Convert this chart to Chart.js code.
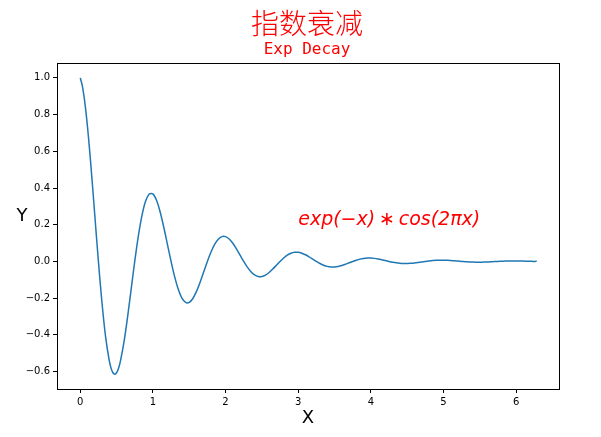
<!DOCTYPE html>
<html>
<head>
<meta charset="utf-8">
<script src="https://cdn.jsdelivr.net/npm/chart.js@4"></script>
<style>
html,body{margin:0;padding:0;background:#fff;}
#wrap{width:601px;height:437px;position:relative;}
</style>
</head>
<body>
<div id="wrap"><canvas id="c" width="601" height="437"></canvas></div>
<script>
const titleText = "指数衰减";
const subtitleText = "Exp Decay";
const xLabel = "X";
const yLabel = "Y";
const annotationText = "exp(−x)\u2009∗\u2009cos(2πx)";
const annotationAt = [3, 0.2];

const xValues = [
0.00,0.025,0.05,0.075,0.10,0.125,0.15,0.175,0.20,0.25,0.30,0.35,0.40,0.425,0.45,0.475,0.50,0.525,0.55,0.60,0.65,0.70,0.75,0.80,0.85,0.90,0.95,
1.00,1.05,1.10,1.15,1.20,1.25,1.30,1.35,1.40,1.45,1.50,1.55,1.60,1.65,1.70,1.75,1.80,1.85,1.90,1.95,
2.00,2.05,2.10,2.15,2.20,2.25,2.30,2.35,2.40,2.45,2.50,2.55,2.60,2.65,2.70,2.75,2.80,2.85,2.90,2.95,
3.00,3.05,3.10,3.15,3.20,3.25,3.30,3.35,3.40,3.45,3.50,3.55,3.60,3.65,3.70,3.75,3.80,3.85,3.90,3.95,
4.00,4.05,4.10,4.15,4.20,4.25,4.30,4.35,4.40,4.45,4.50,4.55,4.60,4.65,4.70,4.75,4.80,4.85,4.90,4.95,
5.00,5.05,5.10,5.15,5.20,5.25,5.30,5.35,5.40,5.45,5.50,5.55,5.60,5.65,5.70,5.75,5.80,5.85,5.90,5.95,
6.00,6.05,6.10,6.15,6.20,6.25,6.2832
];
const yValues = [
1.0000,0.9633,0.9047,0.8266,0.7320,0.6240,0.5059,0.3811,0.2530,0.0000,-0.2289,-0.4142,-0.5423,-0.5825,-0.6064,-0.6142,-0.6065,-0.5843,-0.5487,-0.4440,-0.3069,-0.1535,0.0000,0.1389,0.2512,0.3289,0.3678,
0.3679,0.3328,0.2693,0.1861,0.0931,0.0000,-0.0842,-0.1524,-0.1995,-0.2231,-0.2231,-0.2019,-0.1633,-0.1129,-0.0565,0.0000,0.0511,0.0924,0.1210,0.1353,
0.1353,0.1224,0.0991,0.0685,0.0342,0.0000,-0.0310,-0.0561,-0.0734,-0.0821,-0.0821,-0.0743,-0.0601,-0.0415,-0.0208,0.0000,0.0188,0.0340,0.0445,0.0498,
0.0498,0.0450,0.0365,0.0252,0.0126,0.0000,-0.0114,-0.0206,-0.0270,-0.0302,-0.0302,-0.0273,-0.0221,-0.0153,-0.0076,0.0000,0.0069,0.0125,0.0164,0.0183,
0.0183,0.0166,0.0134,0.0093,0.0046,0.0000,-0.0042,-0.0076,-0.0099,-0.0111,-0.0111,-0.0101,-0.0081,-0.0056,-0.0028,0.0000,0.0025,0.0046,0.0060,0.0067,
0.0067,0.0061,0.0049,0.0034,0.0017,0.0000,-0.0015,-0.0028,-0.0037,-0.0041,-0.0041,-0.0037,-0.0030,-0.0021,-0.0010,0.0000,0.0009,0.0017,0.0022,0.0025,
0.0025,0.0022,0.0018,0.0013,0.0006,0.0000,0.0019
];
const xTicks = [0,1,2,3,4,5,6];
const yTicks = [-0.6,-0.4,-0.2,0.0,0.2,0.4,0.6,0.8,1.0];

const points = xValues.map((x,i)=>({x:x,y:yValues[i]}));

const textPlugin = {
  id:'textPlugin',
  afterDraw(chart){
    const ctx = chart.ctx;
    const a = chart.chartArea;
    ctx.save();
    ctx.strokeStyle = '#000';
    ctx.lineWidth = 1;
    ctx.strokeRect(Math.round(a.left)+0.5, Math.round(a.top)+0.5, Math.round(a.right-a.left), Math.round(a.bottom-a.top));
    ctx.fillStyle = 'red';
    ctx.textAlign = 'center';
    ctx.textBaseline = 'middle';
    ctx.font = '300 28px "Noto Sans CJK SC"';
    ctx.fillText(titleText, 307, 23);
    ctx.font = '16px "DejaVu Sans Mono"';
    ctx.fillText(subtitleText, 307, 50);
    ctx.fillStyle = '#000';
    ctx.font = '18px "DejaVu Sans"';
    ctx.fillText(yLabel, 22, 216);
    ctx.fillText(xLabel, 308, 418);
    const xs = chart.scales.x, ys = chart.scales.y;
    ctx.fillStyle = 'red';
    ctx.textAlign = 'left';
    ctx.textBaseline = 'alphabetic';
    ctx.font = 'italic 19px "DejaVu Sans"';
    ctx.fillText(annotationText, xs.getPixelForValue(annotationAt[0]), ys.getPixelForValue(annotationAt[1]));
    ctx.restore();
  }
};

new Chart(document.getElementById('c'), {
  type:'scatter',
  data:{datasets:[{
    data:points,
    showLine:true,
    borderColor:'#1f77b4',
    borderWidth:1.5,
    pointRadius:0,
    tension:0.3,
    fill:false
  }]},
  options:{
    responsive:false,
    animation:false,
    devicePixelRatio:1,
    layout:{padding:{top:63,right:42,bottom:0,left:0}},
    plugins:{legend:{display:false},tooltip:{enabled:false},title:{display:false}},
    scales:{
      x:{
        type:'linear', min:-0.32, max:6.59,
        afterBuildTicks(s){ s.ticks = xTicks.map(v=>({value:v})); },
        afterFit(s){ s.height = 48; },
        grid:{drawOnChartArea:false, drawTicks:true, tickLength:4, color:'#000'},
        border:{display:false},
        ticks:{color:'#000', font:{family:'DejaVu Sans', size:10}, padding:3, maxRotation:0,
          callback:v=>String(v)}
      },
      y:{
        type:'linear', min:-0.695, max:1.081,
        afterBuildTicks(s){ s.ticks = yTicks.map(v=>({value:v})); },
        afterFit(s){ s.width = 57; },
        grid:{drawOnChartArea:false, drawTicks:true, tickLength:4, color:'#000'},
        border:{display:false},
        ticks:{color:'#000', font:{family:'DejaVu Sans', size:10}, padding:3,
          callback:v=>(v<-1e-9?'−':'')+Math.abs(v).toFixed(1)}
      }
    }
  },
  plugins:[textPlugin]
});
</script>
</body>
</html>
